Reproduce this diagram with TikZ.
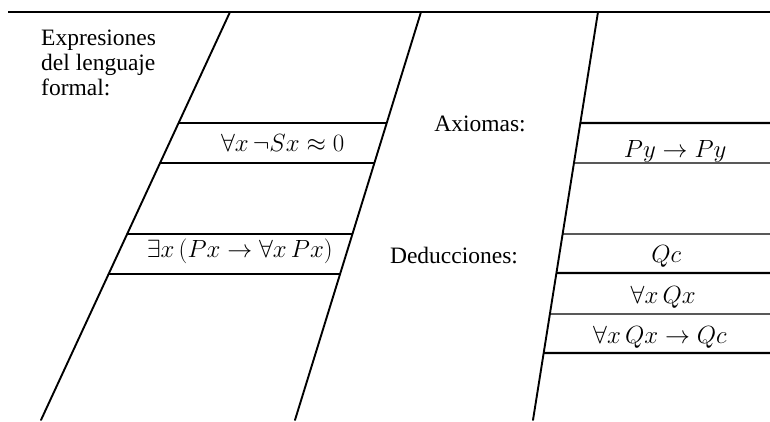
\documentclass[tikz,border=0pt]{standalone}
\usepackage{fontspec}
\setmainfont{Liberation Serif}
\usetikzlibrary{calc}
\tikzset{
  edge/.style={line width=1.9pt, line cap=round},
  thin band/.style={line width=1.4pt},
  thick band/.style={line width=2.1pt},
  lbl/.style={inner sep=0pt, font=\fontsize{23.5}{25}\selectfont},
}
\begin{document}
\begin{tikzpicture}[x=1pt,y=-1pt]
\useasboundingbox (0,0) rectangle (770,421);
% slanted lines
\coordinate (L1t) at (230,12); \coordinate (L1b) at (41,420);
\coordinate (L2t) at (421,12); \coordinate (L2b) at (295,420);
\coordinate (L3t) at (598,12); \coordinate (L3b) at (533,420);
\coordinate (TL) at (8,12); \coordinate (TR) at (770,12);
\draw[line width=1.9pt] (TL) -- (TR);
\draw[edge] (L1t) -- (L1b);
\draw[edge] (L2t) -- (L2b);
\draw[edge] (L3t) -- (L3b);
% band points on the lines
\foreach \n/\y in {a/123,b/163,c/234,d/274}{
  \coordinate (P1\n) at ($(L1t)!{(\y-12)/408}!(L1b)$);
  \coordinate (P2\n) at ($(L2t)!{(\y-12)/408}!(L2b)$);
}
\foreach \n/\y in {a/123,b/163,c/234,d/273,e/314,f/353}{
  \coordinate (P3\n) at ($(L3t)!{(\y-12)/408}!(L3b)$);
  \coordinate (R\n) at (770,\y);
}
% left strip bands
\draw[thick band] (P1a) -- (P2a);
\draw[thin band] (P1b) -- (P2b);
\draw[thin band] (P1c) -- (P2c);
\draw[thick band] (P1d) -- (P2d);
% right strip bands
\draw[thick band] (P3a) -- (Ra);
\draw[thin band] (P3b) -- (Rb);
\draw[thin band] (P3c) -- (Rc);
\draw[thick band] (P3d) -- (Rd);
\draw[thin band] (P3e) -- (Re);
\draw[thick band] (P3f) -- (Rf);
% texts
\node[lbl, anchor=north west, align=left] (expr) at (41,29.5)
  {Expresiones\\del lenguaje\\formal:};
\node[lbl, anchor=base] (f1) at ($(P1a)!0.5!(P2a)+(0,28)$) {$\forall x\,\neg Sx\approx 0$};
\node[lbl, anchor=base] (f2) at ($(P1c)!0.5!(P2c)+(0,23)$) {$\exists x\,(Px\rightarrow\forall x\,Px)$};
\node[lbl, anchor=base] (ax) at (480,131.5) {Axiomas:};
\node[lbl, anchor=base] (ded) at (454,263) {Deducciones:};
\node[lbl, anchor=base] (a1) at ($(P3a)!0.5!(Ra)+(0,34)$) {$Py\rightarrow Py$};
\node[lbl, anchor=base] (d1) at ($(P3c)!0.5!(Rc)+(0,28)$) {$Qc$};
\node[lbl, anchor=base] (d2) at ($(P3d)!0.5!(Rd)+(0,30)$) {$\forall x\,Qx$};
\node[lbl, anchor=base] (d3) at ($(P3e)!0.5!(Re)+(0,29)$) {$\forall x\,Qx\rightarrow Qc$};
\end{tikzpicture}
\end{document}
